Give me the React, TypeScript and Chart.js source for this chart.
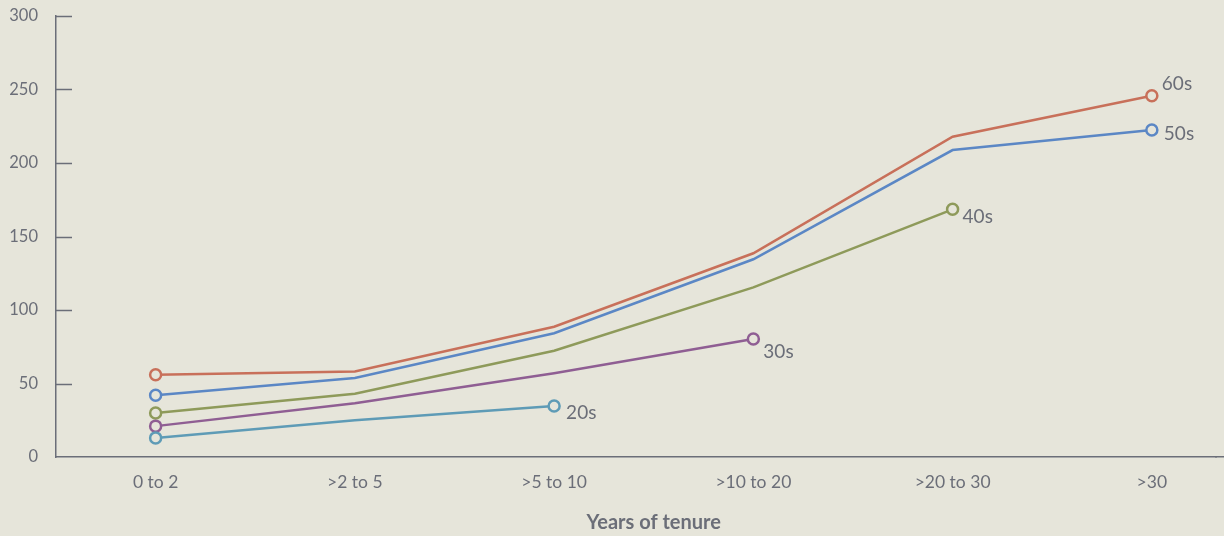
import React, { useEffect, useRef } from "react";
import { Chart, registerables } from "chart.js";

Chart.register(...registerables);

const categories = ["0 to 2", ">2 to 5", ">5 to 10", ">10 to 20", ">20 to 30", ">30"];
const yTicks = [0, 50, 100, 150, 200, 250, 300];

const series20s = [13, 25, 34.7];
const series30s = [21, 36.5, 57, 80.3];
const series40s = [30, 43, 72.3, 115.4, 168.5];
const series50s = [42, 53.7, 84.2, 134.5, 208.8, 222.4];
const series60s = [56, 58.2, 88.6, 138.6, 217.9, 245.8];

const seriesNames = ["20s", "30s", "40s", "50s", "60s"];
const seriesValues = [series20s, series30s, series40s, series50s, series60s];
const seriesColors = ["#5e9bb6", "#8f5e93", "#8e9a5a", "#5b87c5", "#c8705a"];
const labelOffsets = [
  { dx: 12, dy: 7 },
  { dx: 10, dy: 13 },
  { dx: 10, dy: 8 },
  { dx: 12, dy: 4 },
  { dx: 10, dy: -12 },
];

const BG = "#e6e5da";
const AXIS = "#6b6e78";
const FONT = "Lato, 'Noto Sans', sans-serif";

export default function App() {
  const ref = useRef<HTMLCanvasElement | null>(null);

  useEffect(() => {
    document.body.style.margin = "0";
    document.body.style.background = BG;
    const canvas = ref.current!;
    const datasets = seriesValues.map((vals, si) => ({
      label: seriesNames[si],
      data: vals.map((v, i) => ({ x: i, y: v })),
      borderColor: seriesColors[si],
      backgroundColor: BG,
      borderWidth: 2.5,
      pointRadius: vals.map((_, i) => (i === 0 || i === vals.length - 1 ? 5.5 : 0)),
      pointBorderWidth: 2.5,
      pointBorderColor: seriesColors[si],
      pointBackgroundColor: BG,
      tension: 0,
      clip: false as any,
    }));

    const decor = {
      id: "decor",
      beforeDraw(chart: any) {
        const c = chart.ctx;
        c.save();
        c.fillStyle = BG;
        c.fillRect(0, 0, chart.width, chart.height);
        c.restore();
      },
      afterDatasetsDraw(chart: any) {
        const c = chart.ctx;
        const ys = chart.scales.y;
        const xs = chart.scales.x;
        const area = chart.chartArea;
        c.save();
        c.strokeStyle = AXIS;
        c.lineWidth = 1.5;
        yTicks.forEach((t) => {
          if (t === 0) return;
          const py = Math.round(ys.getPixelForValue(t)) + 0.5;
          c.beginPath();
          c.moveTo(area.left, py);
          c.lineTo(area.left + 16, py);
          c.stroke();
        });
        // extend x axis line to the right edge (same alignment as the border)
        const by = Math.round(xs.top - 0.75) + 0.75;
        c.beginPath();
        c.moveTo(area.right - 1, by);
        c.lineTo(chart.width, by);
        c.stroke();
        c.fillStyle = AXIS;
        c.font = `19px ${FONT}`;
        c.textAlign = "left";
        c.textBaseline = "middle";
        seriesValues.forEach((vals, si) => {
          const last = vals.length - 1;
          const px = xs.getPixelForValue(last) + labelOffsets[si].dx;
          const py = ys.getPixelForValue(vals[last]) + labelOffsets[si].dy;
          c.fillText(seriesNames[si], px, py);
        });
        c.font = `bold 20px ${FONT}`;
        c.textAlign = "center";
        const tx = (xs.getPixelForValue(0) + xs.getPixelForValue(categories.length - 1)) / 2;
        c.fillText("Years of tenure", tx, 523);
        c.restore();
      },
    };

    const chart = new Chart(canvas, {
      type: "line",
      data: { datasets },
      options: {
        animation: false,
        responsive: false,
        maintainAspectRatio: false,
        layout: { padding: { top: 16, right: 0, left: 0, bottom: 0 } },
        plugins: { legend: { display: false }, tooltip: { enabled: false } },
        scales: {
          x: {
            type: "linear",
            min: -0.5,
            max: 5.322,
            afterBuildTicks: (scale: any) => {
              scale.ticks = categories.map((_, i) => ({ value: i }));
            },
            afterFit: (scale: any) => {
              scale.height = 79;
              scale.paddingLeft = 0;
              scale.paddingRight = 0;
            },
            grid: { display: false, drawTicks: false },
            border: { display: true, color: AXIS, width: 1.5 },
            ticks: {
              autoSkip: false,
              maxRotation: 0,
              padding: 15,
              color: AXIS,
              font: { family: FONT, size: 17.5 },
              callback: (v: any) => categories[v as number] ?? "",
            },
          },
          y: {
            type: "linear",
            min: 0,
            max: 300,
            afterBuildTicks: (scale: any) => {
              scale.ticks = yTicks.map((v) => ({ value: v }));
            },
            afterFit: (scale: any) => {
              scale.width = 56;
              scale.paddingTop = 0;
              scale.paddingBottom = 0;
            },
            grid: { display: false, drawTicks: false },
            border: { display: true, color: AXIS, width: 1.5 },
            ticks: {
              padding: 18,
              color: AXIS,
              font: { family: FONT, size: 16.5 },
            },
          },
        },
      },
      plugins: [decor],
    });
    return () => chart.destroy();
  }, []);

  return (
    <div style={{ width: 1224, height: 536 }}>
      <canvas ref={ref} width={1224} height={536} style={{ display: "block" }} />
    </div>
  );
}
